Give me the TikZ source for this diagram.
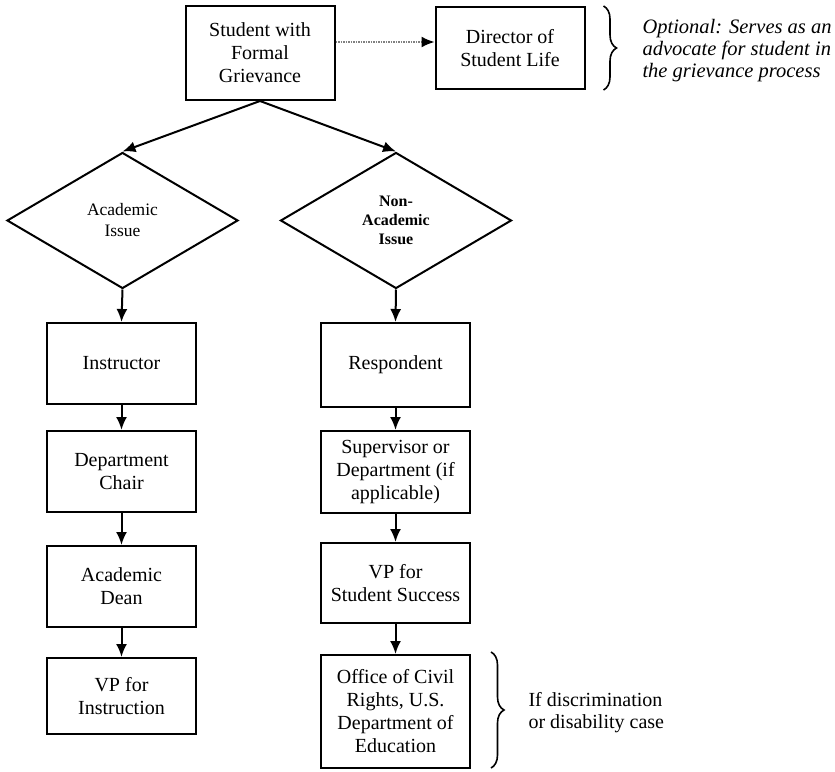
\documentclass[tikz,border=0pt]{standalone}
\usepackage{fontspec}
\setmainfont{Liberation Serif}
\usetikzlibrary{positioning}
\usetikzlibrary{arrows.meta}
\usetikzlibrary{shapes.geometric}
\usetikzlibrary{decorations.pathreplacing}

\begin{document}
\begin{tikzpicture}[
    x=1pt, y=-1pt,
    stepbox/.style={rectangle, draw, line width=2pt, minimum width=149pt, inner sep=2pt, align=center, font=\fontsize{20}{23}\selectfont},
    issue/.style={diamond, draw, line width=2pt, minimum width=231pt, minimum height=136pt, inner sep=0pt, align=center},
    flow/.style={-{Latex[length=13pt,width=11pt]}, line width=2pt},
    sidebrace/.style={decorate, decoration={brace, amplitude=13pt}, line width=1.6pt},
]
    \useasboundingbox (0,0) rectangle (835,771);

    % --- Top: student and advocate ---
    \node[stepbox, minimum height=94pt] (student) at (260,53) {Student with\\Formal\\Grievance};
    \node[stepbox, minimum height=82pt] (director) at (510,48) {Director of\\Student Life};
    \draw[-{Latex[length=13pt,width=11pt,color=black]}, line width=1.6pt, draw=black!50, dash pattern=on 1.5pt off 1pt]
        ([yshift=11pt]student.east) -- ([yshift=6pt]director.west);
    \draw[sidebrace] ([xshift=18pt]director.north east) -- ([xshift=18pt]director.south east);
    \node[anchor=west, align=left, font=\itshape\fontsize{20.5}{22}\selectfont] (optional) at (639,51)
        {Optional: Serves as an\\advocate for student in\\the grievance process};

    % --- Decision ---
    \node[issue, font=\fontsize{17.5}{21}\selectfont] (academic) at (122.5,220.5) {Academic\\Issue};
    \node[issue, font=\bfseries\fontsize{16}{19}\selectfont] (nonacademic) at (396,220.5) {Non-\\Academic\\Issue};
    \draw[flow] (student.south) -- (academic.north);
    \draw[flow] (student.south) -- (nonacademic.north);

    % --- Academic path ---
    \node[stepbox, minimum height=81pt] (instructor) at (121.5,363.5) {Instructor};
    \node[stepbox, minimum height=81pt] (chair) at (121.5,471.5) {Department\\Chair};
    \node[stepbox, minimum height=81pt] (dean) at (121.5,586.5) {Academic\\Dean};
    \node[stepbox, minimum height=76pt] (vpinstr) at (121.5,696) {VP for\\Instruction};
    \draw[flow] (academic.south) -- (instructor.north);
    \draw[flow] (instructor) -- (chair);
    \draw[flow] (chair) -- (dean);
    \draw[flow] (dean) -- (vpinstr);

    % --- Non-academic path ---
    \node[stepbox, minimum height=84pt] (respondent) at (395.5,365) {Respondent};
    \node[stepbox, minimum height=82pt] (supervisor) at (395.5,472) {Supervisor or\\Department (if\\applicable)};
    \node[stepbox, minimum height=80pt] (vpsuccess) at (395.5,583) {VP for\\Student Success};
    \node[stepbox, minimum height=113pt] (civil) at (395.5,711.5) {Office of Civil\\Rights, U.S.\\Department of\\Education};
    \draw[flow] (nonacademic.south) -- (respondent.north);
    \draw[flow] (respondent) -- (supervisor);
    \draw[flow] (supervisor) -- (vpsuccess);
    \draw[flow] (vpsuccess) -- (civil);
    \draw[sidebrace] ([xshift=20pt,yshift=2pt]civil.north east) -- ([xshift=20pt,yshift=1pt]civil.south east);
    \node[anchor=west, align=left, font=\fontsize{20}{22}\selectfont] (ifcase) at (525,712.5)
        {If discrimination\\or disability case};
\end{tikzpicture}
\end{document}
